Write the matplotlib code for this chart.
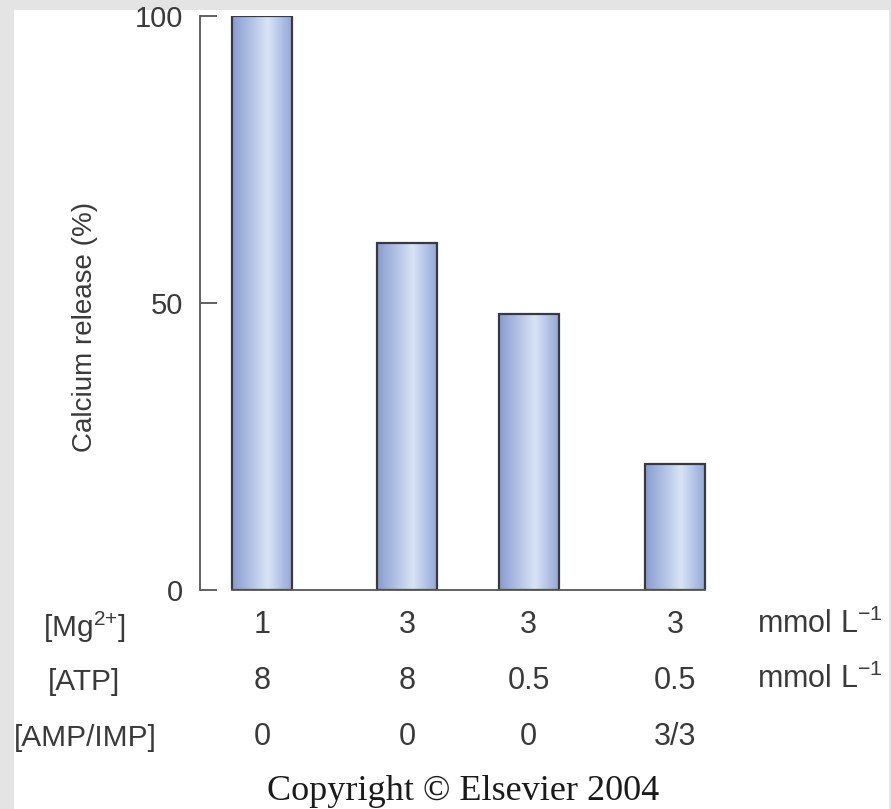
import matplotlib
matplotlib.use("Agg")
import matplotlib.pyplot as plt
import numpy as np
from matplotlib.patches import Rectangle
from matplotlib.colors import LinearSegmentedColormap

# ---- data ----
positions = [1.0, 2.0, 2.84, 3.85]
release = [100, 60.5, 48, 22]
mg_vals = ["1", "3", "3", "3"]
atp_vals = ["8", "8", "0.5", "0.5"]
amp_vals = ["0", "0", "0", "3/3"]
row_labels = [r"[Mg$^{2{+}}$]", "[ATP]", "[AMP/IMP]"]
unit_label = r"mmol L$^{-1}$"
yticks = [0, 50, 100]

plt.rcParams['font.family'] = ['Liberation Sans', 'DejaVu Sans']
plt.rcParams['mathtext.fontset'] = 'custom'
plt.rcParams['mathtext.rm'] = 'Liberation Sans'
plt.rcParams['mathtext.it'] = 'Liberation Sans:italic'
plt.rcParams['mathtext.bf'] = 'Liberation Sans:bold'

W, H = 891, 809
fig = plt.figure(figsize=(W / 100, H / 100), dpi=100)
fig.patch.set_facecolor('#e4e4e4')
# white panel
fig.patches.append(Rectangle((14 / W, 0), (889 - 14) / W, (H - 10) / H,
                             transform=fig.transFigure, facecolor='white',
                             edgecolor='none', zorder=-10))

ax_left, ax_right, ax_top, ax_bottom = 200, 720, 16, 590
ax = fig.add_axes([ax_left / W, (H - ax_bottom) / H,
                   (ax_right - ax_left) / W, (ax_bottom - ax_top) / H])
ax.set_facecolor('none')
bw = 0.41

cmap = LinearSegmentedColormap.from_list('bar', [(0, '#879cd2'), (0.6, '#d8e4f5'), (1, '#94a7d8')])
grad = np.linspace(0, 1, 256).reshape(1, -1)
bars = ax.bar(positions, release, width=bw, facecolor='none', edgecolor='#3a3a3a',
              linewidth=1.6, zorder=3)
for b in bars:
    x0, y0 = b.get_x(), b.get_y()
    im = ax.imshow(grad, cmap=cmap, aspect='auto', zorder=2,
                   extent=[x0, x0 + b.get_width(), y0, y0 + b.get_height()])
    im.set_clip_path(b)
ax.set_xlim(0.572, 4.159)
ax.set_ylim(0, 100)

# baseline
ax.plot([positions[0] - bw / 2, positions[-1] + bw / 2], [0, 0], color='#555555',
        lw=1.3, zorder=4, clip_on=False)

for s in ['top', 'right', 'bottom']:
    ax.spines[s].set_visible(False)
ax.spines['left'].set_color('#555555')
ax.spines['left'].set_linewidth(1.3)
ax.set_xticks([])
ax.set_yticks(yticks)
ax.tick_params(axis='y', direction='in', length=12, width=1.3, color='#555555',
               labelsize=21, labelcolor='#3a3a3a', pad=12)
ax.set_ylabel('Calcium release (%)', fontsize=20, color='#3a3a3a')
ax.yaxis.set_label_coords(-0.196, 0.458)

# rows under the bars
trans = ax.get_xaxis_transform()
row_y = [-0.061, -0.158, -0.256]
for vals, yy in zip([mg_vals, atp_vals, amp_vals], row_y):
    for p, v in zip(positions, vals):
        ax.text(p, yy, v, transform=trans, ha='center', va='center',
                fontsize=22, color='#3a3a3a')

label_px_y = [627, 682, 738]
label_px_x = [84, 84, 85]
for lab, lx, ly in zip(row_labels, label_px_x, label_px_y):
    fig.text(lx / W, 1 - ly / H, lab, ha='center', va='center', fontsize=21.5,
             color='#3a3a3a')
for ly in label_px_y[:2]:
    fig.text(757 / W, 1 - (ly - 3) / H, unit_label, ha='left', va='center',
             fontsize=22, color='#3a3a3a')

fig.text(463 / W, 1 - 791 / H, 'Copyright © Elsevier 2004', ha='center',
         va='center', fontsize=26, color='#1a1a1a',
         family=['Liberation Serif', 'DejaVu Serif'])

fig.savefig('out.png', dpi=100, facecolor=fig.get_facecolor())
